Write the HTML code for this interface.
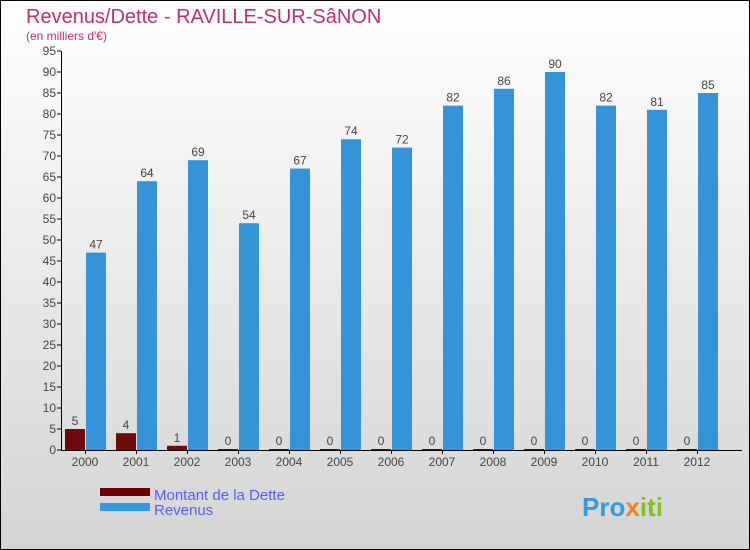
<!DOCTYPE html>
<html><head><meta charset="utf-8"><style>
body{margin:0}
#c{width:748px;height:548px;border:1px solid #000;background:linear-gradient(#fff,#d4d4d4);position:relative;font-family:"Liberation Sans",sans-serif;overflow:hidden}
</style></head><body>
<div id="c">
<svg width="750" height="550" id="s" style="position:absolute;left:-1px;top:-1px">
<text x="26" y="23" font-size="20" fill="#c0306a">Revenus/Dette - RAVILLE-SUR-SâNON</text>
<text x="26" y="40" font-size="12" fill="#c0306a">(en milliers d'€)</text>
<rect x="100" y="488" width="50" height="8" fill="#6a0000"/>
<rect x="100" y="503" width="50" height="8" fill="#3399e0"/>
<text x="154" y="500" font-size="15" fill="#5a5aff">Montant de la Dette</text>
<text x="154" y="515" font-size="15" fill="#5a5aff">Revenus</text>
<text x="582" y="516" font-size="26" font-weight="bold" fill="#3399e0">Pro<tspan fill="#f08020">x</tspan><tspan fill="#80c020">iti</tspan></text>
</svg>
</div>
<script>
const years=["2000","2001","2002","2003","2004","2005","2006","2007","2008","2009","2010","2011","2012"];
const dette=[5,4,1,0,0,0,0,0,0,0,0,0,0];
const revenus=[47,64,69,54,67,74,72,82,86,90,82,81,85];
const yTicks=[0,5,10,15,20,25,30,35,40,45,50,55,60,65,70,75,80,85,90,95];
const s=document.getElementById('s');
const NS='http://www.w3.org/2000/svg';
const y=v=>450-v*4.2;
const gx=i=>65+51*i;
function mk(t,a){const e=document.createElementNS(NS,t);for(const k in a)e.setAttribute(k,a[k]);s.appendChild(e);return e;}
yTicks.forEach(v=>{
 const l=mk('line',{x1:57,x2:61,y1:y(v),y2:y(v),stroke:'#000'});
 
 
 const t=mk('text',{x:56,y:y(v)+4,'text-anchor':'end','font-size':12,fill:'#444'});t.textContent=v;
 
 
});
years.forEach((yr,i)=>{
 const x=gx(i);
 const hd=Math.max(dette[i]*4.2,1);
 const b1=mk('rect',{x:x,y:450-hd,width:20,height:hd,fill:'#6e0a0a'});
 
 
 const b2=mk('rect',{x:x+21,y:y(revenus[i]),width:20,height:revenus[i]*4.2,fill:'#3594d8'});
 
 
 const t1=mk('text',{x:x+10,y:450-hd-4,'text-anchor':'middle','font-size':12,fill:'#444'});t1.textContent=dette[i];
 
 
 const t2=mk('text',{x:x+31,y:y(revenus[i])-4,'text-anchor':'middle','font-size':12,fill:'#444'});t2.textContent=revenus[i];
 
 
 const tl=mk('text',{x:x+20,y:466,'text-anchor':'middle','font-size':12,fill:'#444'});tl.textContent=yr;
 
 
 const tk=mk('line',{x1:x+20.5,x2:x+20.5,y1:450,y2:454,stroke:'#000'});
 
 
});
const ya=mk('line',{x1:61.5,x2:61.5,y1:y(95),y2:450,stroke:'#000'});


const xa=mk('line',{x1:61,x2:742,y1:450.5,y2:450.5,stroke:'#000'});


</script>
</body></html>
